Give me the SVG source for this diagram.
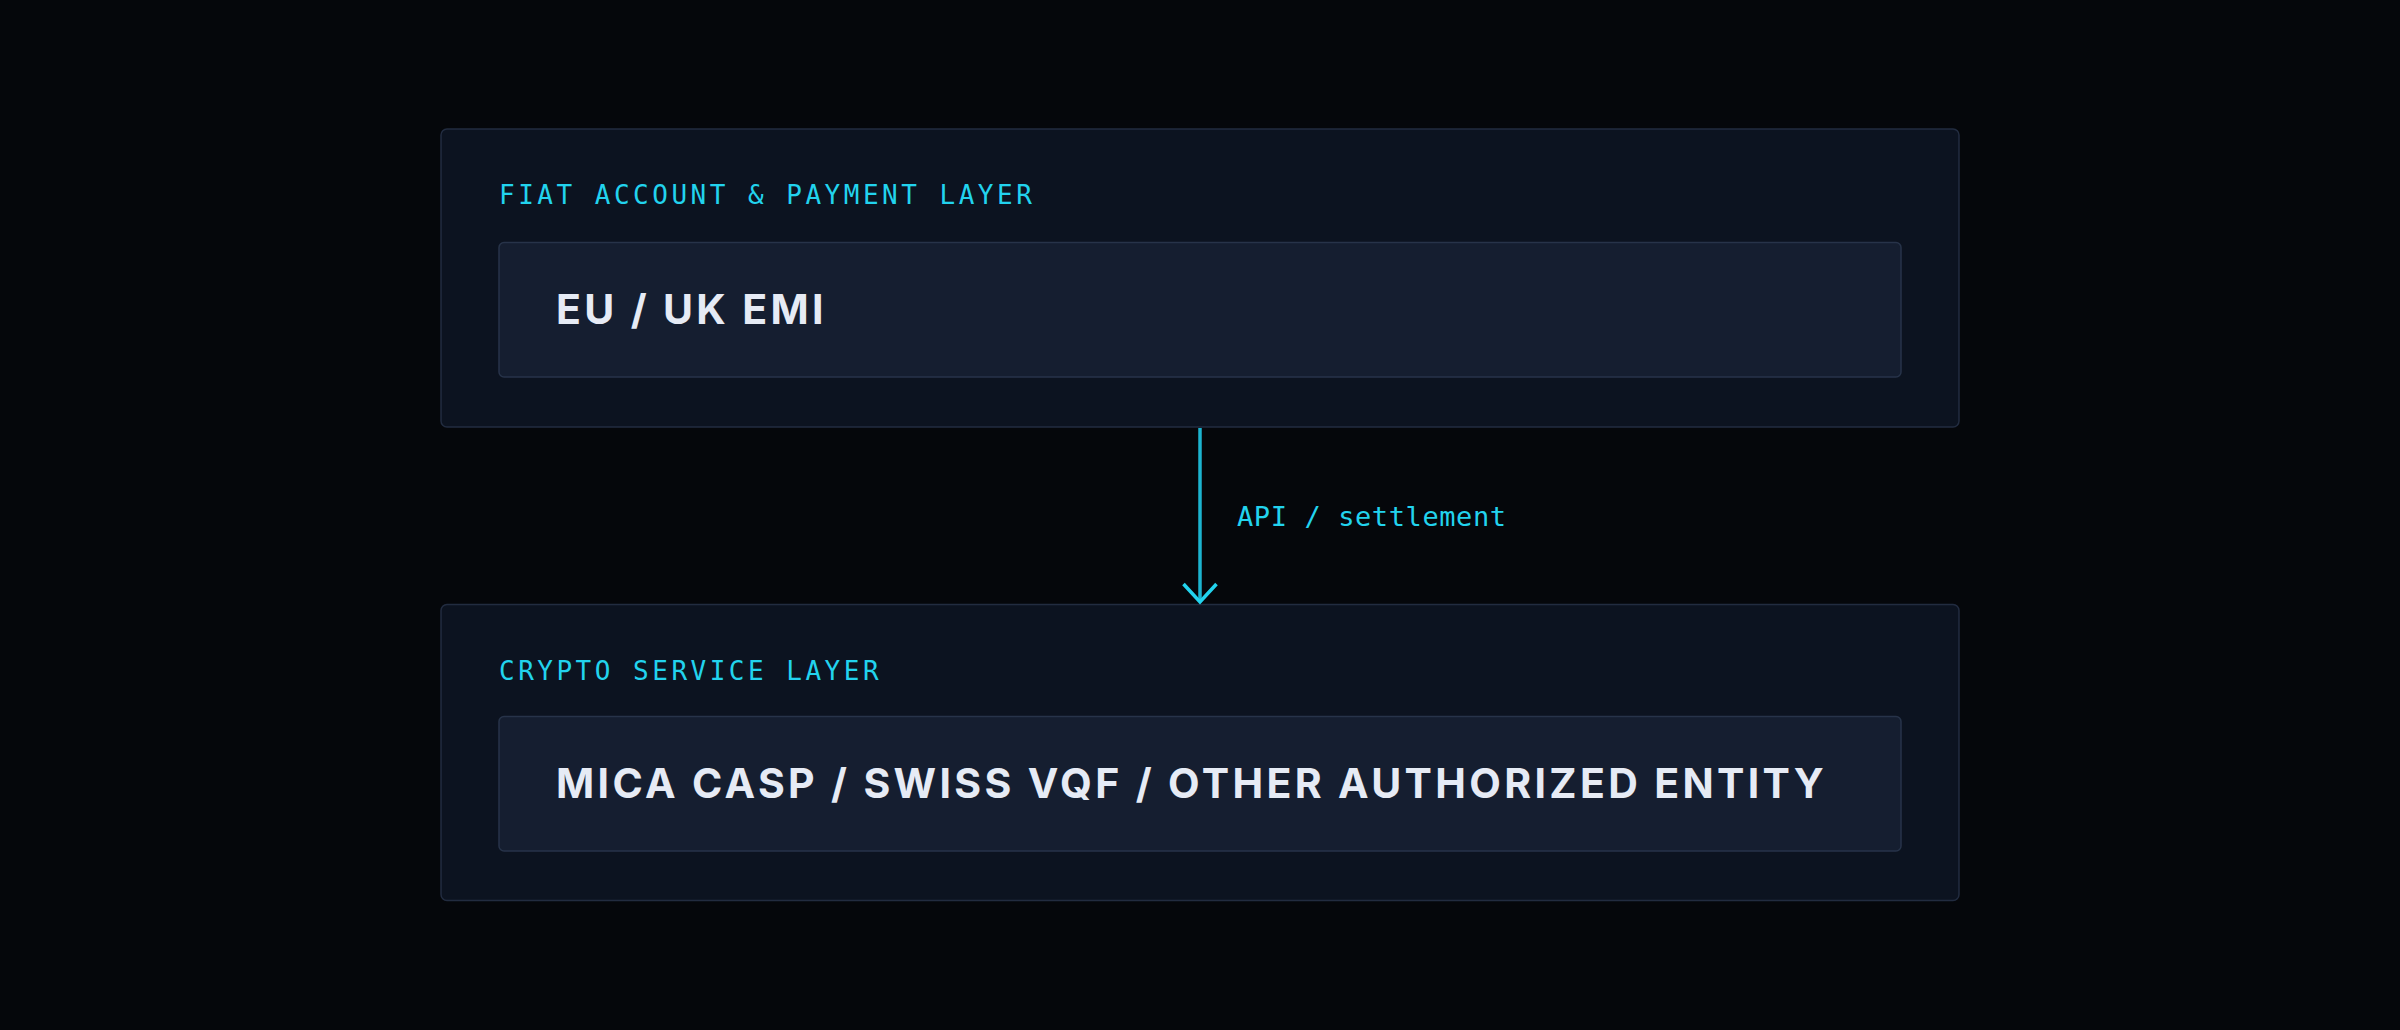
<svg xmlns="http://www.w3.org/2000/svg" width="2400" height="1030" viewBox="0 0 2400 1030">
<defs>
<style>
.outer{fill:#0c1320;stroke:#222c40;stroke-width:1.5}
.inner{fill:#151e30;stroke:#273349;stroke-width:1.5}
.lbl{font-family:"DejaVu Sans Mono","Liberation Mono",monospace;font-size:26px;fill:#22d3ee;letter-spacing:3.5px}
.ttl{font-family:Inter,"Noto Sans","Liberation Sans",sans-serif;font-size:41px;font-weight:700;fill:#e6ebf5;letter-spacing:3.35px}
.edge{font-family:"DejaVu Sans Mono","Liberation Mono",monospace;font-size:27px;fill:#22d3ee;letter-spacing:0.6px}
</style>
<marker id="arr" viewBox="0 0 24 40" refX="20" refY="20" markerWidth="24" markerHeight="40" markerUnits="userSpaceOnUse" orient="auto">
<path d="M2 3.5 L20 20 L2 36.5" fill="none" stroke="#22d3ee" stroke-width="3.5"/>
</marker>
</defs>
<rect width="2400" height="1030" fill="#05070b"/>
<g id="fiat-layer">
<rect class="outer" x="441" y="129" width="1518" height="298" rx="6"/>
<text class="lbl" x="499" y="204">FIAT ACCOUNT &amp; PAYMENT LAYER</text>
</g>
<g id="eu-uk-emi">
<rect class="inner" x="499" y="242.5" width="1402" height="134.5" rx="5"/>
<text class="ttl" x="556" y="324">EU / UK EMI</text>
</g>
<g id="crypto-layer">
<rect class="outer" x="441" y="604.5" width="1518" height="296" rx="6"/>
<text class="lbl" x="499" y="680">CRYPTO SERVICE LAYER</text>
</g>
<g id="casp">
<rect class="inner" x="499" y="716.5" width="1402" height="134.5" rx="5"/>
<text class="ttl" x="556" y="798">MICA CASP / SWISS VQF / OTHER AUTHORIZED ENTITY</text>
</g>
<g id="connectors">
<line x1="1200" y1="428" x2="1200" y2="602" stroke="#1cb4d0" stroke-width="3.5" marker-end="url(#arr)"/>
<text class="edge" x="1237" y="526">API / settlement</text>
</g>
</svg>
